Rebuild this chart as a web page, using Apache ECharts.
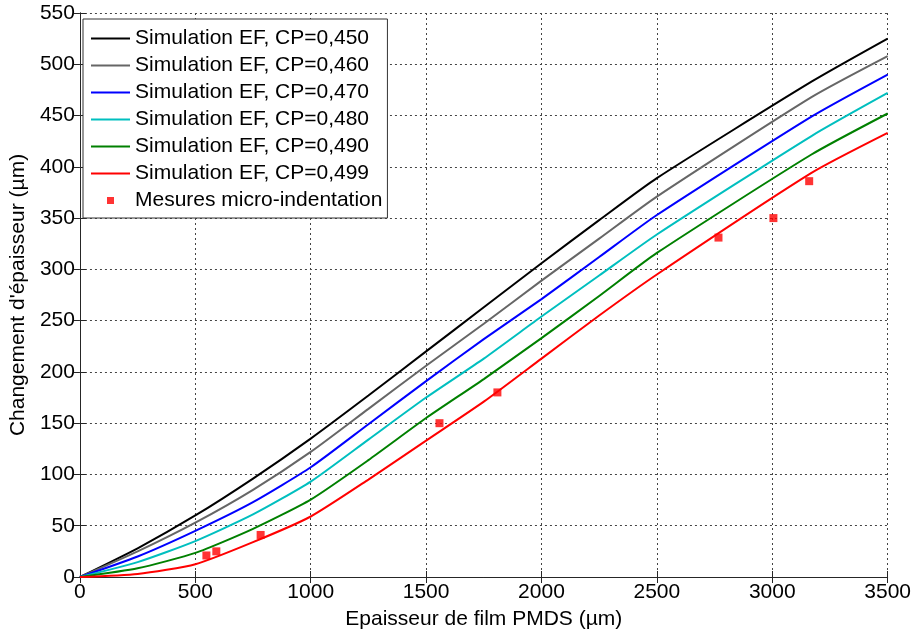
<!DOCTYPE html>
<html lang="fr">
<head>
    <meta charset="UTF-8">
    <title>Changement d'épaisseur</title>
    <script type="text/javascript" src="https://cdn.jsdelivr.net/npm/echarts@6/dist/echarts.min.js"></script>
    <style>
        html, body { margin: 0; padding: 0; background: #fff; }
    </style>
</head>
<body>
<div id="main" style="width:914px;height:635px;"></div>
<script>
    // épaisseur du film (µm)
    const epaisseur = [0, 250, 500, 750, 1000, 1250, 1500, 1750, 2000, 2250, 2500, 3170, 3500];
    // simulations EF pour chaque coefficient de Poisson
    const cp450 = [0, 28, 60, 96, 135, 177, 220, 263, 306, 348, 389, 483, 525];
    const cp460 = [0, 25, 53, 85, 122, 164, 206, 247, 289, 330, 371, 468, 508];
    const cp470 = [0, 20, 45, 73, 107, 149, 191, 232, 271, 312, 353, 449, 490];
    const cp480 = [0, 14.5, 35, 61, 93, 134, 175, 213, 254, 294, 334, 430, 472];
    const cp490 = [0, 8.5, 23.5, 47, 75.5, 114, 155, 193, 233, 274, 316, 412, 452];
    const cp499 = [0, 3, 12.5, 34, 59, 95, 133, 171, 213, 255, 295, 394, 433];
    // mesures micro-indentation
    const mesuresX = [548, 591, 783, 1558, 1809, 2767, 3005, 3160];
    const mesuresY = [21, 25, 41, 150, 180, 331, 350, 386];

    const noms = ['Simulation EF, CP=0,450', 'Simulation EF, CP=0,460', 'Simulation EF, CP=0,470',
        'Simulation EF, CP=0,480', 'Simulation EF, CP=0,490', 'Simulation EF, CP=0,499'];
    const couleurs = ['#000000', '#666666', '#0000ff', '#00bfbf', '#008000', '#ff0000'];
    const courbes = [cp450, cp460, cp470, cp480, cp490, cp499];

    const police = "'Liberation Sans', Arial, sans-serif";
    const axeCouleur = '#262626';

    let series = courbes.map((c, k) => ({
        name: noms[k],
        type: 'line',
        symbol: 'none',
        smooth: 0.2,
        data: c.map((v, i) => [epaisseur[i], v]),
        lineStyle: {color: couleurs[k], width: 2},
        itemStyle: {color: couleurs[k]},
        z: 3
    }));
    series.push({
        name: 'Mesures micro-indentation',
        type: 'scatter',
        symbol: 'rect',
        symbolSize: 8,
        data: mesuresX.map((x, i) => [x, mesuresY[i]]),
        itemStyle: {color: '#ff0000'},
        z: 4
    });

    // icône de légende : trait plein pour les simulations, carré pour les mesures
    const legendData = noms.map(n => ({name: n, icon: 'path://M0 0H39V2H0Z'}));
    legendData.push({name: 'Mesures micro-indentation', icon: 'path://M0 0H10V10H0Z'});

    const grille = {show: true, lineStyle: {color: '#444', type: [2, 3], width: 1}};

    let option = {
        animation: false,
        textStyle: {fontFamily: police},
        grid: {left: 78, right: 26, top: 13, bottom: 58},
        legend: {
            orient: 'vertical',
            left: 83,
            top: 19,
            data: legendData,
            itemWidth: 39,
            itemHeight: 7,
            itemGap: 6,
            padding: [9, 5, 7, 8],
            backgroundColor: '#fff',
            borderColor: '#333',
            borderWidth: 1,
            textStyle: {fontSize: 21, color: '#000', fontFamily: police, lineHeight: 21}
        },
        xAxis: [{
            type: 'value',
            min: 0, max: 3500, interval: 500,
            name: 'Epaisseur de film PMDS (µm)',
            nameLocation: 'middle',
            nameGap: 32,
            nameTextStyle: {fontSize: 21, color: '#000', fontFamily: police},
            axisLine: {lineStyle: {color: axeCouleur}},
            axisTick: {inside: true, length: 6, lineStyle: {color: axeCouleur}},
            axisLabel: {fontSize: 21, color: '#000', margin: 5, fontFamily: police,
                formatter: v => String(v)},
            splitLine: grille
        }, {
            type: 'value', position: 'top',
            min: 0, max: 3500, interval: 500,
            axisLine: {show: true, lineStyle: {color: axeCouleur}},
            axisTick: {inside: true, length: 6, lineStyle: {color: axeCouleur}},
            axisLabel: {show: false},
            splitLine: {show: false}
        }],
        yAxis: [{
            type: 'value',
            min: 0, max: 550, interval: 50,
            name: "Changement d'épaisseur (µm)",
            nameLocation: 'middle',
            nameGap: 50,
            nameTextStyle: {fontSize: 21, color: '#000', fontFamily: police},
            axisLine: {show: true, lineStyle: {color: axeCouleur}},
            axisTick: {show: true, inside: true, length: 6, lineStyle: {color: axeCouleur}},
            axisLabel: {fontSize: 21, color: '#000', margin: 5, fontFamily: police,
                formatter: v => String(v)},
            splitLine: grille
        }, {
            type: 'value', position: 'right',
            min: 0, max: 550, interval: 50,
            axisLine: {show: true, lineStyle: {color: axeCouleur}},
            axisTick: {show: true, inside: true, length: 6, lineStyle: {color: axeCouleur}},
            axisLabel: {show: false},
            splitLine: {show: false}
        }],
        series: series
    };

    let myChart = echarts.init(document.getElementById('main'));
    myChart.setOption(option);
</script>
</body>
</html>
